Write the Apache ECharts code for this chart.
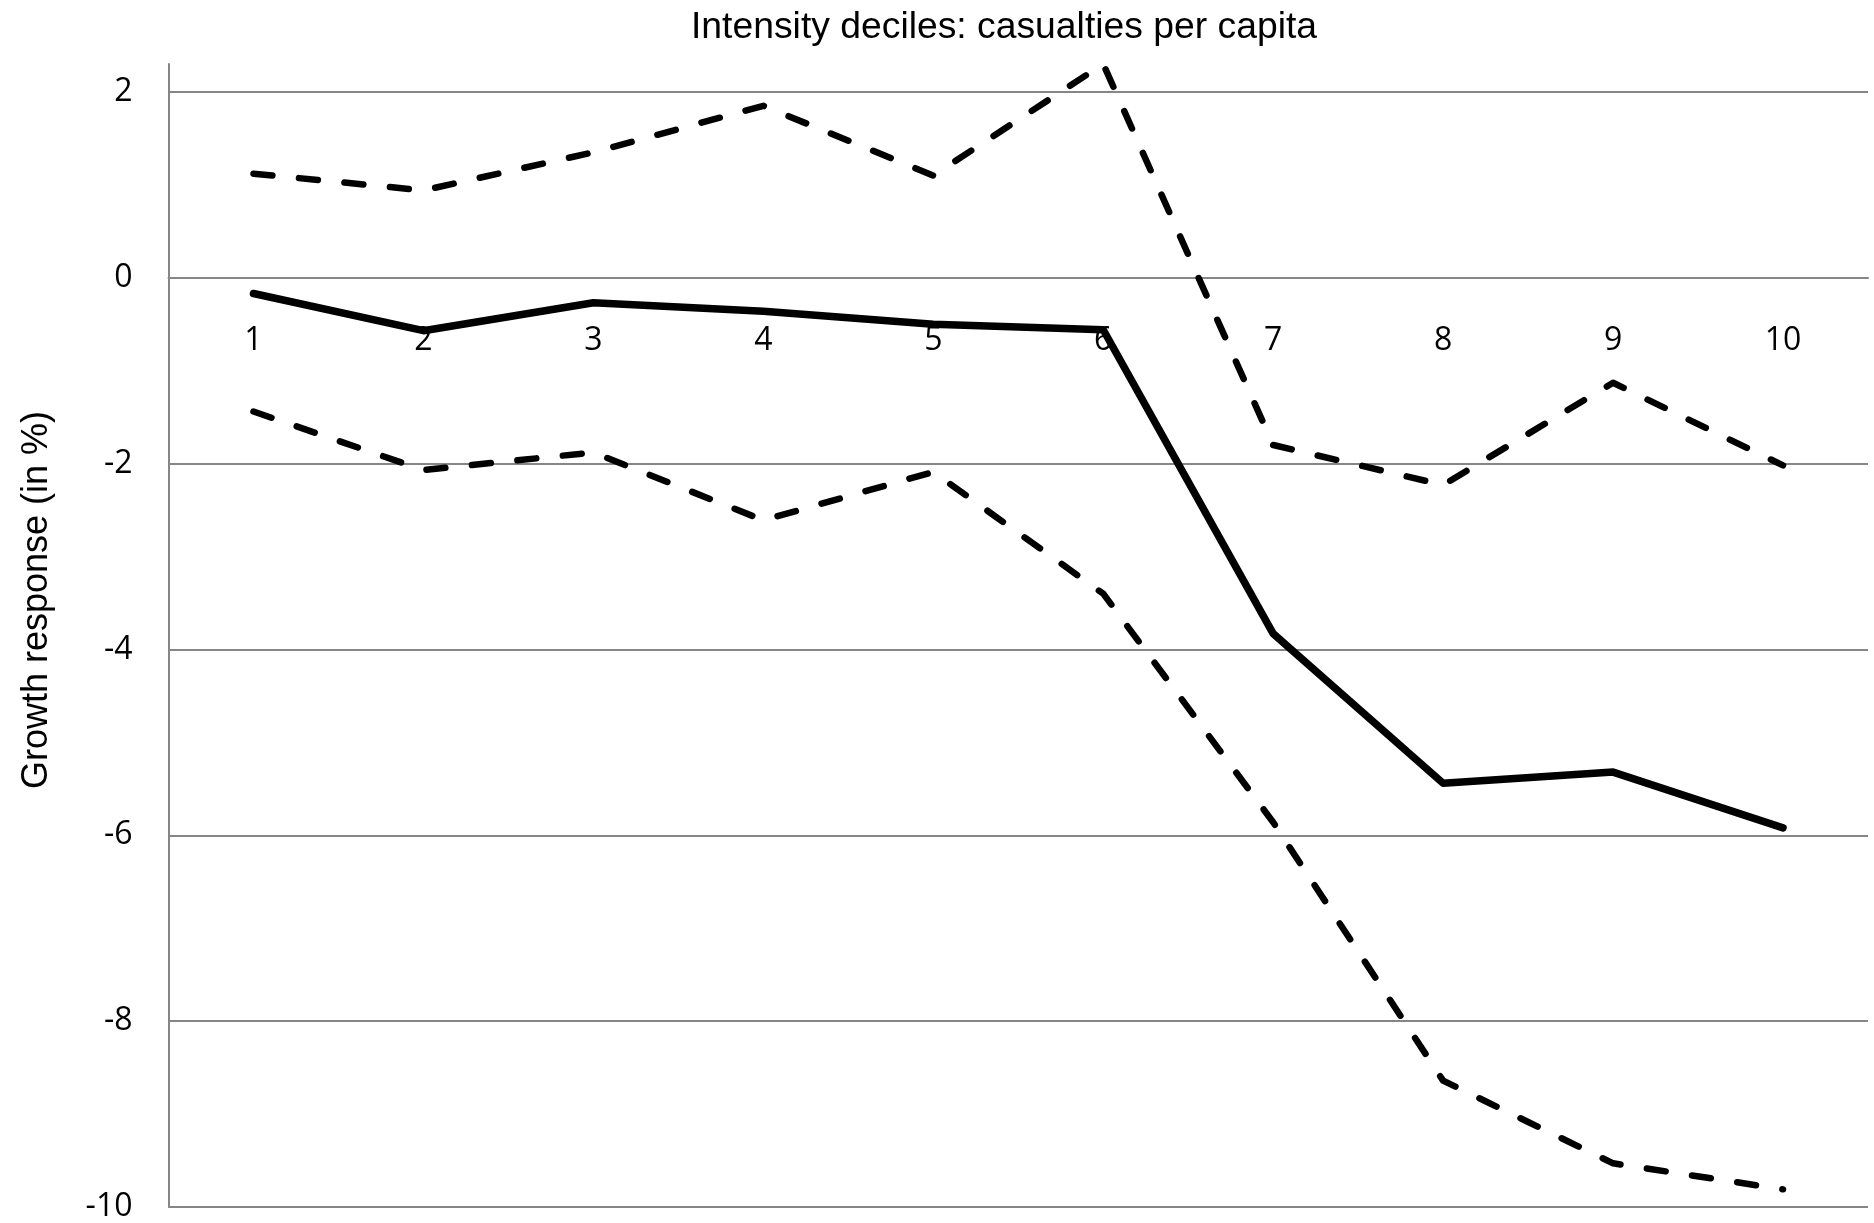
<!DOCTYPE html>
<html>
<head>
<meta charset="utf-8">
<script src="https://cdn.jsdelivr.net/npm/echarts@6/dist/echarts.min.js"></script>
<style>
html,body{margin:0;padding:0;background:#fff;}
#chart{width:1874px;height:1223px;}
</style>
</head>
<body>
<div id="chart"></div>
<script>
const categories = ['1','2','3','4','5','6','7','8','9','10'];
const estimate = [-0.17, -0.57, -0.27, -0.36, -0.50, -0.56, -3.83, -5.44, -5.32, -5.92];
const upperBand = [1.12, 0.94, 1.35, 1.85, 1.10, 2.30, -1.80, -2.23, -1.13, -2.02];
const lowerBand = [-1.44, -2.07, -1.88, -2.61, -2.09, -3.40, -5.86, -8.64, -9.53, -9.81];
const titleText = 'Intensity deciles: casualties per capita';
const yAxisTitle = 'Growth response (in %)';
const yMin = -10, yMax = 2.3, yStep = 2;

const W = 1874, H = 1223;
const gridTop = 64, gridBottom = 16;
const plotH = H - gridTop - gridBottom;
// move the category axis up to the zero line of the value axis
const zeroOffset = -plotH * (0 - yMin) / (yMax - yMin);

const chart = echarts.init(document.getElementById('chart'), null, {renderer:'canvas'});
const gridColor = '#868686';
const labelFont = '"Open Sans", "Noto Sans", sans-serif';
const titleFont = '"Liberation Sans", Arial, sans-serif';

const dashStyle = {color:'#000', width:6.5, type:[19,26.7], cap:'round', join:'round'};

chart.setOption({
  animation:false,
  backgroundColor:'#fff',
  title:{
    text:titleText,
    left:691, top:9, padding:0,
    textStyle:{fontFamily:titleFont, fontSize:37.3, fontWeight:'normal', color:'#000'}
  },
  graphic:[{
    type:'text',
    x:37, y:600,
    rotation:Math.PI/2,
    style:{text:yAxisTitle, fontFamily:titleFont, fontSize:36, fill:'#000', align:'center', verticalAlign:'middle'}
  }],
  grid:{left:168.5, right:6, top:gridTop, bottom:gridBottom, containLabel:false, outerBoundsMode:'none'},
  xAxis:{
    type:'category',
    data:categories,
    boundaryGap:true,
    position:'bottom',
    offset:zeroOffset,
    axisLine:{show:true, onZero:false, lineStyle:{color:gridColor, width:2}},
    axisTick:{show:false},
    axisLabel:{fontFamily:labelFont, fontSize:32, color:'#000', margin:47, interval:0},
    splitLine:{show:false}
  },
  yAxis:{
    type:'value',
    min:yMin, max:yMax, interval:yStep,
    axisLine:{show:true, lineStyle:{color:gridColor, width:2}},
    axisTick:{show:false},
    axisLabel:{fontFamily:labelFont, fontSize:32, color:'#000', margin:36, showMaxLabel:false,
      formatter:function(v){ return (Math.abs(v % yStep) < 1e-9) ? String(v) : ''; }},
    splitLine:{show:true, showMaxLine:false, lineStyle:{color:gridColor, width:2}}
  },
  series:[
    {name:'upper', type:'line', data:upperBand, symbol:'none', smooth:false, lineStyle:dashStyle, z:3},
    {name:'lower', type:'line', data:lowerBand, symbol:'none', smooth:false, lineStyle:dashStyle, z:3},
    {name:'estimate', type:'line', data:estimate, symbol:'none', smooth:false,
      lineStyle:{color:'#000', width:7.5, cap:'round', join:'round'}, z:4}
  ]
});
</script>
</body>
</html>
